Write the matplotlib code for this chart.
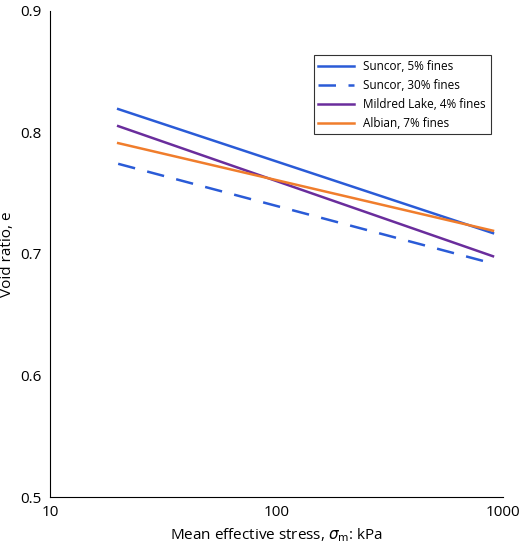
import matplotlib
matplotlib.use("Agg")
import matplotlib.pyplot as plt
from matplotlib.ticker import FixedLocator, NullLocator

plt.rcParams['font.family'] = ['Open Sans', 'DejaVu Sans']

stress = [20, 900]
suncor5 = [0.819, 0.717]
suncor30 = [0.774, 0.692]
mildred = [0.805, 0.698]
albian = [0.791, 0.719]

fig = plt.figure(figsize=(5.2, 5.53), dpi=100)
ax = fig.add_axes([0.096, 0.101, 0.872, 0.88])

ax.plot(stress, suncor5, color='#2a5bd7', lw=1.8, label='Suncor, 5% fines')
ax.plot(stress, suncor30, color='#2a5bd7', lw=1.8, ls=(0, (7, 5)), label='Suncor, 30% fines')
ax.plot(stress, mildred, color='#6a2d9c', lw=1.8, label='Mildred Lake, 4% fines')
ax.plot(stress, albian, color='#f07d2c', lw=1.8, label='Albian, 7% fines')

ax.set_xscale('log')
ax.set_xlim(10, 1000)
ax.set_ylim(0.5, 0.9)
ax.xaxis.set_major_locator(FixedLocator([10, 100, 1000]))
ax.xaxis.set_minor_locator(NullLocator())
ax.set_xticklabels(['10', '100', '1000'])
ax.set_yticks([0.5, 0.6, 0.7, 0.8, 0.9])
ax.set_yticklabels(['0.5', '0.6', '0.7', '0.8', '0.9'])
ax.tick_params(length=0, labelsize=11, pad=6)
for s in ['top', 'right']:
    ax.spines[s].set_visible(False)

ax.set_xlabel(r'Mean effective stress, $\sigma_{\mathrm{m}}$: kPa', fontsize=11)
ax.set_ylabel('Void ratio, e', fontsize=11)

leg = ax.legend(loc='upper right', bbox_to_anchor=(0.985, 0.92), fontsize=8.5,
                frameon=True, fancybox=False, edgecolor='black', handlelength=3)
leg.get_frame().set_linewidth(0.8)

fig.savefig('out.png')
